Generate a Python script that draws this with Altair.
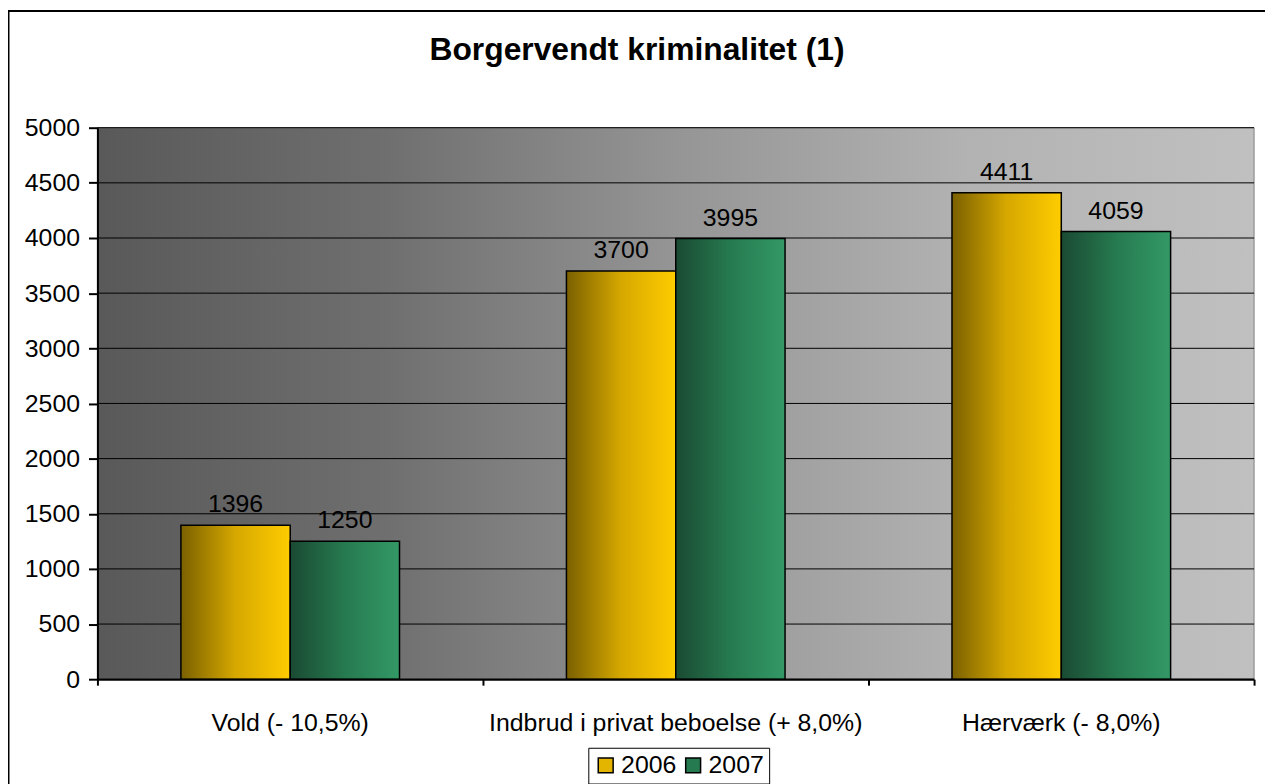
import altair as alt
import pandas as pd

categories = ["Vold (- 10,5%)", "Indbrud i privat beboelse (+ 8,0%)", "Hærværk (- 8,0%)"]
years = ["2006", "2007"]
values_2006 = [1396, 3700, 4411]
values_2007 = [1250, 3995, 4059]
y_ticks = list(range(0, 5001, 500))
x_boundaries = [0, 1, 2, 3]

rows = []
for c, a, b in zip(categories, values_2006, values_2007):
    rows.append({"cat": c, "year": "2006", "value": a})
    rows.append({"cat": c, "year": "2007", "value": b})
df = pd.DataFrame(rows)

W, H = 1164, 555
FONT = "Liberation Sans"
FS = 25

x_enc = alt.X("cat:N", sort=categories,
              scale=alt.Scale(paddingInner=0, paddingOuter=0),
              axis=alt.Axis(title=None, labelAngle=0, ticks=False, tickSize=0,
                            labelPadding=32, labelFontSize=FS, labelColor="black",
                            labelFont=FONT, domainColor="black", domainWidth=2,
                            zindex=1, labelLimit=600, orient="bottom"))
xo_enc = alt.XOffset("year:N", sort=years,
                     scale=alt.Scale(domain=years, paddingInner=0, paddingOuter=0.7636))
y_enc = alt.Y("value:Q", scale=alt.Scale(domain=[0, 5000], nice=False),
              axis=alt.Axis(title=None, values=y_ticks, format="d", tickSize=9,
                            tickColor="black", tickWidth=2, labelPadding=9,
                            labelFontSize=FS, labelColor="black", labelFont=FONT,
                            domainColor="black", domainWidth=2, grid=False, zindex=1))

bg_grad = alt.LinearGradient(gradient="linear", x1=0, x2=1, y1=0, y2=0, stops=[
    alt.GradientStop(offset=0, color="#595959"),
    alt.GradientStop(offset=0.25, color="#6f6f6f"),
    alt.GradientStop(offset=0.5, color="#959595"),
    alt.GradientStop(offset=0.75, color="#b2b2b2"),
    alt.GradientStop(offset=1, color="#c0c0c0"),
])
g2006 = alt.LinearGradient(gradient="linear", x1=0, x2=1, y1=0, y2=0, stops=[
    alt.GradientStop(offset=0, color="#7a6000"),
    alt.GradientStop(offset=0.5, color="#d6a800"),
    alt.GradientStop(offset=1, color="#ffcc00"),
])
g2007 = alt.LinearGradient(gradient="linear", x1=0, x2=1, y1=0, y2=0, stops=[
    alt.GradientStop(offset=0, color="#1a4a33"),
    alt.GradientStop(offset=0.5, color="#267a4f"),
    alt.GradientStop(offset=1, color="#339966"),
])

one = alt.Data(values=[{"k": 1}])

border = alt.Chart(one).mark_rect(fill="white", stroke="black", strokeWidth=2).encode(
    x=alt.value(-89.5), x2=alt.value(W + 40), y=alt.value(-117.5), y2=alt.value(H + 140))

bg = alt.Chart(one).mark_rect(fill=bg_grad, stroke="#808080", strokeWidth=1).encode(
    x=alt.value(0), x2=alt.value(W), y=alt.value(0), y2=alt.value(H))

grid = alt.Chart(pd.DataFrame({"value": y_ticks})).mark_rule(color="black", strokeWidth=1).encode(
    y=alt.Y("value:Q", scale=alt.Scale(domain=[0, 5000], nice=False)))

bars06 = alt.Chart(df).transform_filter(alt.datum.year == "2006").mark_bar(
    fill=g2006, stroke="black", strokeWidth=1.5).encode(x=x_enc, xOffset=xo_enc, y=y_enc)
bars07 = alt.Chart(df).transform_filter(alt.datum.year == "2007").mark_bar(
    fill=g2007, stroke="black", strokeWidth=1.5).encode(x=x_enc, xOffset=xo_enc, y=y_enc)

legend_carrier = alt.Chart(df).mark_bar(opacity=0).encode(
    x=x_enc, xOffset=xo_enc, y=y_enc,
    color=alt.Color("year:N", sort=years,
                    scale=alt.Scale(domain=years, range=["#e3b400", "#267a4f"]),
                    legend=alt.Legend(title=None, orient="none", legendX=494, legendY=624,
                                      direction="horizontal", symbolType="square",
                                      symbolSize=225, symbolStrokeColor="black",
                                      symbolStrokeWidth=1.5, symbolOpacity=1,
                                      labelFontSize=FS, labelFont=FONT, labelColor="black",
                                      labelOffset=3, columnPadding=4, padding=5,
                                      strokeColor="black", fillColor="white")))

labels = alt.Chart(df).mark_text(dy=-13, baseline="alphabetic", fontSize=FS,
                                 font=FONT, color="black").encode(
    x=x_enc, xOffset=xo_enc, y=y_enc, text=alt.Text("value:Q", format="d"))

main = alt.layer(border, bg, grid, bars06, bars07, legend_carrier, labels)

ticks = alt.Chart(pd.DataFrame({"b": x_boundaries})).mark_point(opacity=0).encode(
    x=alt.X("b:Q", scale=alt.Scale(domain=[0, 3], nice=False, zero=False),
            axis=alt.Axis(title=None, orient="bottom", values=x_boundaries, labels=False,
                          tickSize=6, tickWidth=2, tickColor="black", domain=False,
                          grid=False, zindex=1)))

chart = alt.layer(main, ticks).resolve_scale(x="independent").properties(
    width=W, height=H,
    title=alt.TitleParams("Borgervendt kriminalitet (1)", fontSize=32, fontWeight="bold",
                          font=FONT, color="black", anchor="middle", frame="group",
                          baseline="alphabetic", offset=-82, dx=-39),
    autosize=alt.AutoSizeParams(type="none"),
    padding={"left": 90, "top": 118, "right": 11, "bottom": 103},
).configure_view(stroke=None).configure(background="white")

chart.save("out.html", embed_options={"renderer": "svg", "actions": False})
